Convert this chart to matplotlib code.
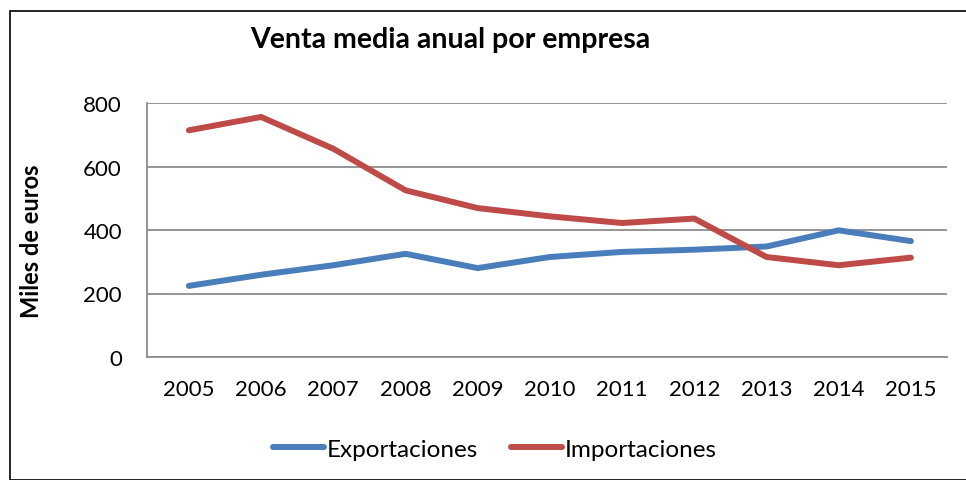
import matplotlib
matplotlib.use("Agg")
import matplotlib.pyplot as plt
from matplotlib.patches import Rectangle
from matplotlib.lines import Line2D

years = ["2005", "2006", "2007", "2008", "2009", "2010", "2011", "2012", "2013", "2014", "2015"]
exportaciones = [224, 259, 289, 325, 280, 315, 331, 338, 348, 399, 365]
importaciones = [714, 756, 656, 525, 469, 443, 422, 436, 315, 289, 313]
yticks = [0, 200, 400, 600, 800]

plt.rcParams['font.family'] = ['Lato', 'DejaVu Sans']

W, H = 966, 481
fig = plt.figure(figsize=(W / 100, H / 100), dpi=100)
fig.patches.append(Rectangle((10 / W, 0), 1, 1 - 12 / H, transform=fig.transFigure,
                             fill=False, edgecolor='black', linewidth=1.2))

ax = fig.add_axes([147 / W, 1 - 358 / H, 800 / W, 254 / H])
x = list(range(len(years)))
blue = '#4A7EBB'
red = '#BE4B48'
ax.plot(x, exportaciones, color=blue, linewidth=4.3, solid_capstyle='round', solid_joinstyle='round')
ax.plot(x, importaciones, color=red, linewidth=4.3, solid_capstyle='round', solid_joinstyle='round')

ax.set_xlim(-0.58, 10.5)
ax.set_ylim(0, 800)
ax.set_yticks(yticks)
ax.set_xticks(x)
ax.set_xticklabels(years)
ax.grid(axis='y', color='#8C8C8C', linewidth=1.3)
ax.set_axisbelow(True)
for s in ['top', 'right']:
    ax.spines[s].set_visible(False)
ax.spines['left'].set_color('#8C8C8C')
ax.spines['bottom'].set_color('#8C8C8C')
ax.spines['left'].set_linewidth(1.3)
ax.spines['bottom'].set_linewidth(1.3)
ax.tick_params(axis='both', length=0, labelsize=16)
ax.tick_params(axis='y', pad=18)
ax.tick_params(axis='x', pad=16)

fig.text(450 / W, 1 - 40 / H, "Venta media anual por empresa", ha='center', va='center',
         fontsize=20.5, fontweight='bold')
fig.text(32 / W, 1 - 241 / H, "Miles de euros", ha='center', va='center', rotation=90,
         fontsize=17, fontweight='bold')

handles = [Line2D([], [], color=blue, linewidth=4.3, solid_capstyle='round'),
           Line2D([], [], color=red, linewidth=4.3, solid_capstyle='round')]
fig.legend(handles, ["Exportaciones", "Importaciones"], loc='center',
           bbox_to_anchor=(495 / W, 1 - 450 / H), ncol=2, frameon=False, fontsize=17.5,
           handlelength=2.1, handletextpad=0.12, columnspacing=1.35)

fig.savefig("out.png", dpi=100)
